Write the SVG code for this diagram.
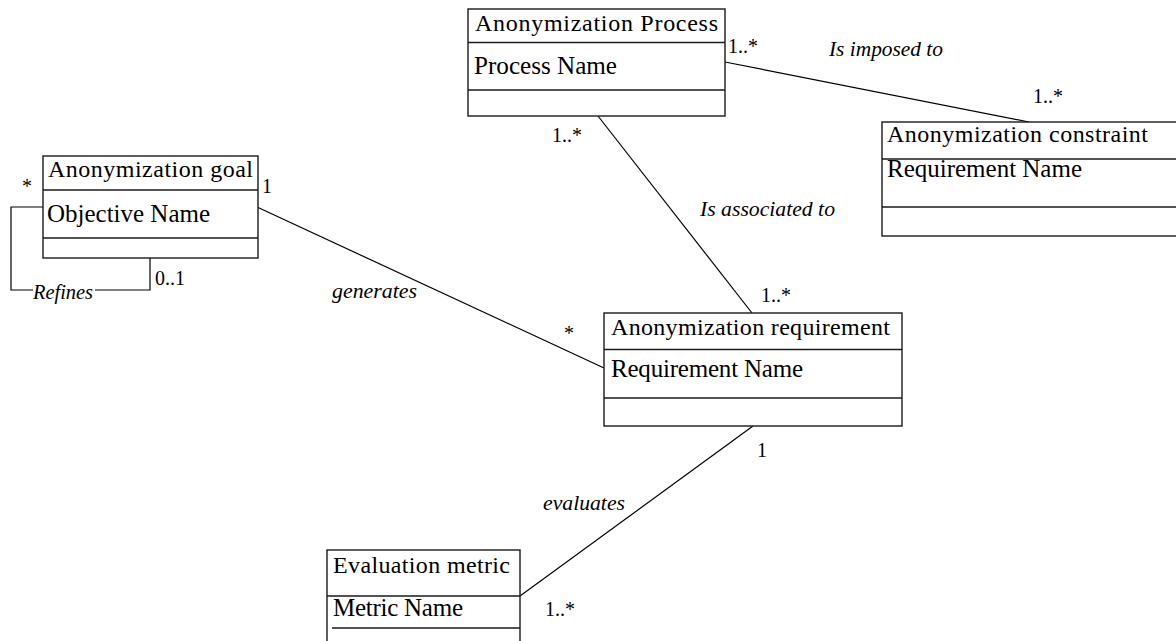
<svg xmlns="http://www.w3.org/2000/svg" width="1176" height="641" viewBox="0 0 1176 641">
<style>
.box{fill:#fff;stroke:#1a1a1a;stroke-width:1.4}
.div{stroke:#1a1a1a;stroke-width:1.4;fill:none}
.ln{stroke:#000;stroke-width:1.2;fill:none}
.t{font-family:"Liberation Serif","Times New Roman",serif;font-size:24px;fill:#000}
.a{font-family:"Liberation Serif","Times New Roman",serif;font-size:25px;fill:#000}
.m{font-family:"Liberation Serif","Times New Roman",serif;font-size:20px;fill:#000}
.l{font-family:"Liberation Serif","Times New Roman",serif;font-size:22px;font-style:italic;fill:#000}
</style>
<rect width="1176" height="641" fill="#fff"/>
<g id="connectors">
<line class="ln" x1="725" y1="62" x2="1029" y2="122"/>
<line class="ln" x1="598" y1="116" x2="752" y2="313"/>
<line class="ln" x1="257" y1="207" x2="604" y2="368"/>
<line class="ln" x1="753" y1="426" x2="520" y2="596"/>
<polyline class="ln" points="43,207 11,207 11,290 33,290"/>
<polyline class="ln" points="95,290 150,290 150,258"/>
<text class="l" x="33" y="299" textLength="60" lengthAdjust="spacingAndGlyphs">Refines</text>
<text class="m" x="155" y="285">0..1</text>
<text class="m" x="22" y="193">*</text>
<text class="m" x="262" y="193">1</text>
<text class="m" x="728" y="53">1..*</text>
<text class="l" x="829" y="56" textLength="114" lengthAdjust="spacingAndGlyphs">Is imposed to</text>
<text class="m" x="1033" y="103">1..*</text>
<text class="m" x="552" y="142">1..*</text>
<text class="l" x="700" y="216" textLength="135" lengthAdjust="spacingAndGlyphs">Is associated to</text>
<text class="m" x="761" y="302">1..*</text>
<text class="l" x="332" y="298" textLength="85" lengthAdjust="spacingAndGlyphs">generates</text>
<text class="m" x="564" y="340">*</text>
<text class="m" x="757" y="457">1</text>
<text class="l" x="543" y="510" textLength="82" lengthAdjust="spacingAndGlyphs">evaluates</text>
<text class="m" x="545" y="616">1..*</text>
</g>
<g id="process">
<rect class="box" x="468" y="9" width="257" height="107"/>
<line class="div" x1="468" y1="42.5" x2="725" y2="42.5"/>
<line class="div" x1="468" y1="90" x2="725" y2="90"/>
<text class="t" x="475" y="31" textLength="243" lengthAdjust="spacing">Anonymization  Process</text>
<text class="a" x="474" y="74" textLength="143" lengthAdjust="spacingAndGlyphs">Process Name</text>
</g>
<g id="goal">
<rect class="box" x="43" y="156" width="215" height="102"/>
<line class="div" x1="43" y1="190" x2="258" y2="190"/>
<line class="div" x1="43" y1="238" x2="258" y2="238"/>
<text class="t" x="48" y="177" textLength="205" lengthAdjust="spacing">Anonymization  goal</text>
<text class="a" x="47" y="222" textLength="163" lengthAdjust="spacingAndGlyphs">Objective Name</text>
</g>
<g id="constraint">
<rect class="box" x="882" y="122" width="300" height="114"/>
<line class="div" x1="882" y1="159" x2="1180" y2="159"/>
<line class="div" x1="882" y1="207" x2="1180" y2="207"/>
<text class="t" x="887" y="142" textLength="261" lengthAdjust="spacing">Anonymization  constraint</text>
<text class="a" x="887" y="177" textLength="195" lengthAdjust="spacing">Requirement  Name</text>
</g>
<g id="requirement">
<rect class="box" x="604" y="313" width="298" height="113"/>
<line class="div" x1="604" y1="349.5" x2="902" y2="349.5"/>
<line class="div" x1="604" y1="398" x2="902" y2="398"/>
<text class="t" x="611" y="335" textLength="279" lengthAdjust="spacing">Anonymization  requirement</text>
<text class="a" x="611" y="377" textLength="192" lengthAdjust="spacing">Requirement  Name</text>
</g>
<g id="metric">
<rect class="box" x="327" y="550" width="193" height="100"/>
<line class="div" x1="327" y1="596" x2="520" y2="596"/>
<line class="div" x1="332" y1="628" x2="520" y2="628"/>
<text class="t" x="333" y="573" textLength="177" lengthAdjust="spacing">Evaluation  metric</text>
<text class="a" x="333" y="616" textLength="130" lengthAdjust="spacing">Metric  Name</text>
</g>
</svg>
